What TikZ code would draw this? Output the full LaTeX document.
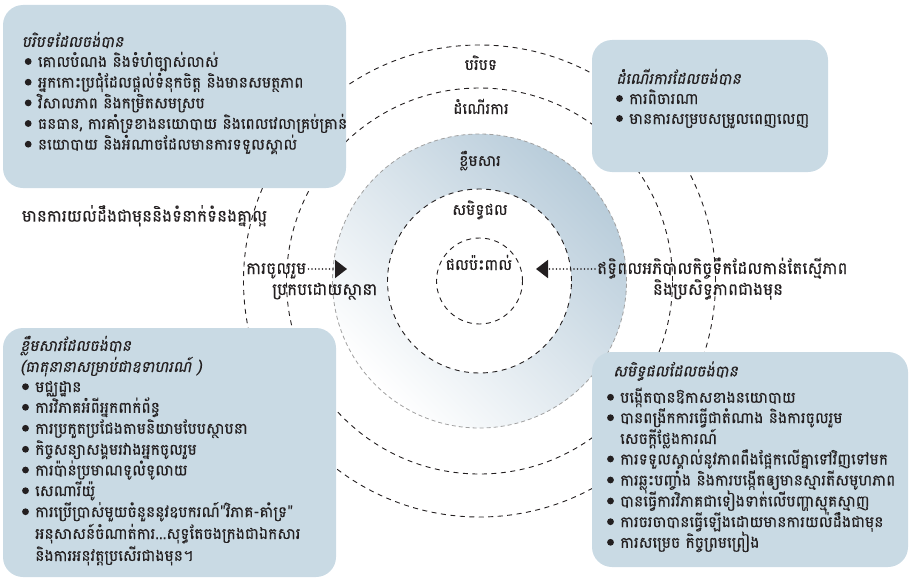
\documentclass[tikz,border=0pt]{standalone}
\usepackage{fontspec}
\usetikzlibrary{arrows.meta}
\newfontfamily\kh[Script=Khmer,FakeBold=0.25]{Battambang}
\newfontfamily\khit[Script=Khmer,FakeSlant=0.2,FakeBold=0.25]{Battambang}
\definecolor{boxfill}{RGB}{201,218,228}
\definecolor{ringblue}{RGB}{184,204,218}
\definecolor{ink}{RGB}{35,31,32}
\definecolor{ringgray}{RGB}{160,160,160}
\newcommand\KhItem[4]{\fill[ink] (#2-9.5,#3-5.5) circle[radius=3.4pt]; \node[txt] (#1) at (#2,#3) {#4};}
\begin{document}
\begin{tikzpicture}[x=1pt,y=-1pt,
  box/.style={fill=boxfill, rounded corners=20pt, inner sep=0pt, outer sep=0pt, anchor=north west},
  txt/.style={font=\kh\fontsize{15.5}{18}\selectfont, text=ink, inner sep=0pt, anchor=base west},
  side/.style={txt, font=\kh\fontsize{16.8}{19}\selectfont},
  hd/.style={txt, font=\khit\fontsize{15.5}{18}\selectfont},
  lbl/.style={txt, anchor=base},
  ring/.style={circle, draw=ink, line width=0.9pt, dash pattern=on 5pt off 4.5pt, inner sep=0pt, outer sep=0pt},
  grayring/.style={circle, draw=ringgray, line width=0.8pt, dash pattern=on 4pt off 3pt, inner sep=0pt, outer sep=0pt},
  dotarrow/.style={draw=ink, line width=1.8pt, dash pattern=on 0pt off 3.5pt, line cap=round, -{Triangle[length=12pt,width=18pt]}}
]
\useasboundingbox (0,0) rectangle (909,578);
\coordinate (C) at (479.5,281);
% shaded ring
\shade[even odd rule, top color=ringblue, bottom color=white, shading angle=-45]
  (C) circle[radius=147pt] (C) circle[radius=92pt];
% circles
\node[ring, minimum size=472pt] (cContext) at (C) {};
\node[ring, minimum size=386pt] (cProcess) at (C) {};
\node[grayring, minimum size=294pt] (cContent) at (C) {};
\node[ring, minimum size=184pt] (cOutcome) at (C) {};
\node[ring, minimum size=86pt] (cImpact) at (C) {};
% circle labels
\node[lbl] (lContext) at (481,70) {បរិបទ};
\node[lbl] (lProcess) at (481,114) {ដំណើរការ};
\node[lbl] (lContent) at (480,166) {ខ្លឹមសារ};
\node[lbl] (lOutcome) at (480,215) {សមិទ្ធផល};
\node[lbl] (lImpact) at (479,270) {ផលប៉ះពាល់};
% boxes
\node[box, minimum width=343pt, minimum height=183pt] (B1) at (3,5) {};
\node[box, minimum width=236pt, minimum height=132pt] (B2) at (592,40) {};
\node[box, minimum width=333pt, minimum height=249pt] (B3) at (3,328) {};
\node[box, minimum width=316pt, minimum height=215pt] (B4) at (592,352) {};
% box 1
\node[hd] (h1) at (21.7,47) {បរិបទដែលចង់បាន};
\KhItem{b1a}{37.7}{67}{គោលបំណង និងទំហំច្បាស់លាស់}
\KhItem{b1b}{37.7}{87.7}{អ្នកកោះប្រជុំដែលផ្តល់ទំនុកចិត្ត និងមានសមត្ថភាព}
\KhItem{b1c}{37.7}{108.4}{វិសាលភាព និងកម្រិតសមស្រប}
\KhItem{b1d}{37.7}{129}{ធនធាន, ការគាំទ្រខាងនយោបាយ និងពេលវេលាគ្រប់គ្រាន់}
\KhItem{b1e}{37.7}{149.7}{នយោបាយ និងអំណាចដែលមានការទទួលស្គាល់}
% box 2
\node[hd] (h2) at (616,84) {ដំណើរការដែលចង់បាន};
\KhItem{b2a}{629}{104}{ការពិចារណា}
\KhItem{b2b}{629}{124}{មានការសម្របសម្រួលពេញលេញ}
% box 3
\node[hd] (h3) at (20,351) {ខ្លឹមសារដែលចង់បាន};
\node[hd] (h3b) at (20,372) {(ធាតុនានាសម្រាប់ជាឧទាហរណ៍ )};
\KhItem{b3a}{35}{392.2}{មជ្ឈដ្ឋាន}
\KhItem{b3b}{35}{412.8}{ការវិភាគអំពីអ្នកពាក់ព័ន្ធ}
\KhItem{b3c}{35}{433.8}{ការប្រកួតប្រជែងតាមនិយាមបែបស្ថាបនា}
\KhItem{b3d}{35}{454.8}{កិច្ចសន្យាសង្គមរវាងអ្នកចូលរួម}
\KhItem{b3e}{35}{475.5}{ការប៉ាន់ប្រមាណទូលំទូលាយ}
\KhItem{b3f}{35}{496.2}{សេណារីយ៉ូ}
\KhItem{b3g}{35}{517.2}{ការប្រើប្រាស់មួយចំនួននូវឧបករណ៍"វិភាគ-គាំទ្រ"}
\node[txt] (b3h) at (35,539) {អនុសាសន៍ចំណាត់ការ...សុទ្ធតែចងក្រងជាឯកសារ};
\node[txt] (b3i) at (35,561) {និងការអនុវត្តប្រសើរជាងមុន។};
% box 4
\node[hd] (h4) at (613,376.5) {សមិទ្ធផលដែលចង់បាន};
\KhItem{b4a}{620}{402.8}{បង្កើតបានឱកាសខាងនយោបាយ}
\KhItem{b4b}{620}{423.2}{បានពង្រីកការធ្វើជាតំណាង និងការចូលរួម}
\node[txt] (b4c) at (620,444) {សេចក្តីថ្លែងការណ៍};
\KhItem{b4d}{620}{464.5}{ការទទួលស្គាល់នូវភាពពឹងផ្អែកលើគ្នាទៅវិញទៅមក}
\KhItem{b4e}{620}{485.5}{ការឆ្លុះបញ្ចាំង និងការបង្កើតឲ្យមានស្មារតីសមូហភាព}
\KhItem{b4f}{620}{506.5}{បានធ្វើការវិភាគជាទៀងទាត់លើបញ្ហាស្មុគស្មាញ}
\KhItem{b4g}{620}{527.2}{ការចរចាបានធ្វើឡើងដោយមានការយល់ដឹងជាមុន}
\KhItem{b4h}{620}{547.8}{ការសម្រេច កិច្ចព្រមព្រៀង}
% side texts
\node[side] (pre) at (21.7,221.7) {មានការយល់ដឹងជាមុននិងទំនាក់ទំនងគ្នាល្អ};
\node[side] (la1) at (246,274) {ការចូលរួម};
\node[side] (la2) at (272,295) {ប្រកបដោយស្ថានា};
\node[side] (rb1) at (597,274) {ឥទ្ធិពលអភិបាលកិច្ចទឹកដែលកាន់តែស្មើភាព};
\node[side, anchor=base] (rb2) at (718,295) {និងប្រសិទ្ធភាពជាងមុន};
% arrows
\coordinate (tipA) at (347,269);
\coordinate (tipB) at (536,269);
\draw[dotarrow, shorten <=2pt] (la1.base east |- tipA) -- (tipA);
\draw[dotarrow, shorten <=2pt] (rb1.base west |- tipB) -- (tipB);
\end{tikzpicture}
\end{document}
